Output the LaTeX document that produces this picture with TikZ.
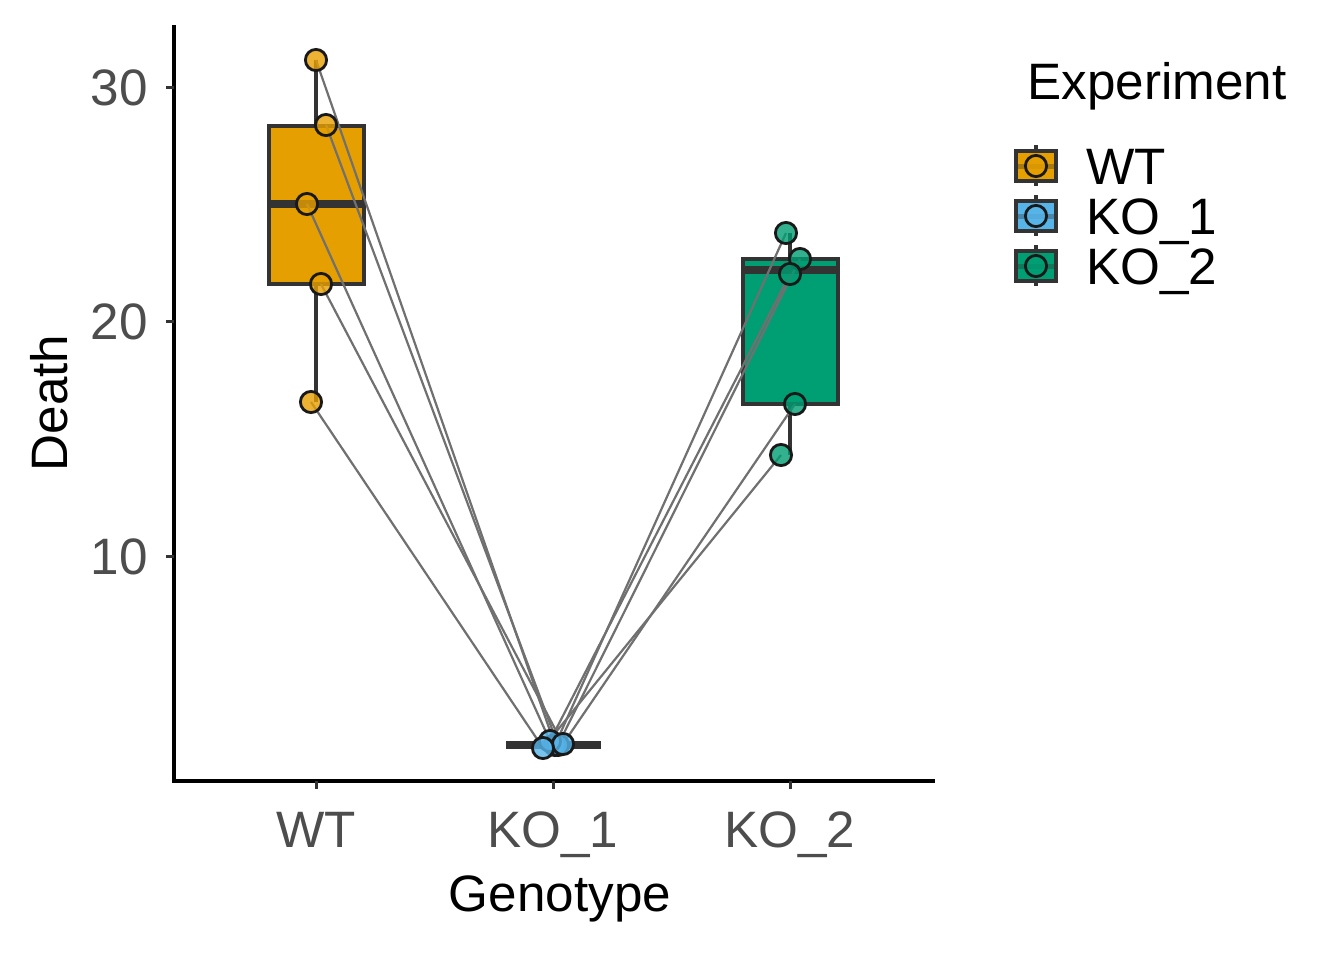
\documentclass[tikz,border=0pt]{standalone}
\usepackage{fontspec}
\setmainfont{Liberation Sans}
\definecolor{wtc}{HTML}{E69F00}
\definecolor{koa}{HTML}{56B4E9}
\definecolor{kob}{HTML}{009E73}
\definecolor{boxline}{HTML}{333333}
\definecolor{ticktext}{HTML}{4D4D4D}
\definecolor{conncol}{HTML}{707070}
\begin{document}
\begin{tikzpicture}[x=0.5pt,y=-0.5pt,
  big/.style={font=\fontsize{25.6}{30}\selectfont, inner sep=0pt},
  ticklab/.style={big, text=ticktext},
  boxst/.style={draw=boxline, line width=2pt},
  medst/.style={draw=boxline, line width=4pt},
  whisk/.style={draw=boxline, line width=2pt},
  conn/.style={draw=conncol, line width=1.1pt},
  ptst/.style={draw=black!90, line width=1.4pt, fill opacity=0.8},
  tickst/.style={draw=boxline, line width=1.5pt},
  axisst/.style={draw=black, line width=2pt, line join=miter}]
\useasboundingbox (0,0) rectangle (1344,960);
\fill[white] (0,0) rectangle (1344,960);

% boxes
\draw[whisk] (316,60) -- (316,126);
\draw[whisk] (316,284) -- (316,402);
\filldraw[boxst, fill=wtc] (269,126) rectangle (364,284);
\draw[medst] (269,204) -- (364,204);

\draw[medst] (506,745) -- (601,745);

\draw[whisk] (790,233) -- (790,259);
\draw[whisk] (790,404) -- (790,455);
\filldraw[boxst, fill=kob] (743,259) rectangle (838,404);
\draw[medst] (743,270) -- (838,270);

% data coordinates
\coordinate (w1) at (316,60);
\coordinate (w2) at (326,125);
\coordinate (w3) at (307,204);
\coordinate (w4) at (321,284);
\coordinate (w5) at (311,402);
\coordinate (k1) at (555,745);
\coordinate (k2) at (558,745);
\coordinate (k3) at (550,741);
\coordinate (k4) at (563,744);
\coordinate (k5) at (543,748);
\coordinate (m1) at (786,233);
\coordinate (m2) at (800,259);
\coordinate (m3) at (790,274);
\coordinate (m4) at (795,404);
\coordinate (m5) at (781,455);

% connectors
\draw[conn] (w1) -- (k1) -- (m1);
\draw[conn] (w2) -- (k2) -- (m2);
\draw[conn] (w3) -- (k3) -- (m3);
\draw[conn] (w4) -- (k4) -- (m4);
\draw[conn] (w5) -- (k5) -- (m5);

% points
\foreach \c in {w1,w2,w3,w4,w5} \filldraw[ptst, fill=wtc] (\c) circle[radius=5.3pt];
\foreach \c in {k1,k2,k3,k4,k5} \filldraw[ptst, fill=koa] (\c) circle[radius=5.3pt];
\foreach \c in {m1,m2,m3,m4,m5} \filldraw[ptst, fill=kob] (\c) circle[radius=5.3pt];

% axes
\draw[axisst] (174,25) -- (174,781) -- (935,781);
\draw[tickst] (166,87) -- (174,87);
\draw[tickst] (166,321) -- (174,321);
\draw[tickst] (166,556) -- (174,556);
\draw[tickst] (316,781) -- (316,789);
\draw[tickst] (553,781) -- (553,789);
\draw[tickst] (790,781) -- (790,789);

\node[ticklab, anchor=base east] (y30) at (148,105) {30};
\node[ticklab, anchor=base east] (y20) at (148,339) {20};
\node[ticklab, anchor=base east] (y10) at (148,574) {10};
\node[ticklab, anchor=base] (xwt) at (316,847) {WT};
\node[ticklab, anchor=base] (xk1) at (553,847) {KO\textunderscore 1};
\node[ticklab, anchor=base] (xk2) at (790,847) {KO\textunderscore 2};
\node[big, anchor=base] (xtitle) at (560,911) {Genotype};
\node[big, anchor=base, rotate=90] (ytitle) at (67,403) {Death};

% legend
\node[big, anchor=base west] (ltitle) at (1027,99) {Experiment};
\foreach \cy/\col/\lab/\nm in {166/wtc/WT/la, 216/koa/KO\textunderscore 1/lb, 266/kob/KO\textunderscore 2/lc} {
  \draw[whisk] (1036,\cy-21) -- (1036,\cy+20);
  \filldraw[boxst, fill=\col] (1016,\cy-15) rectangle (1056,\cy+15);
  \draw[draw=boxline, opacity=0.35, line width=2.5pt] (1017,\cy) -- (1055,\cy);
  \filldraw[ptst, fill=\col] (1036,\cy) circle[radius=5.3pt];
  \node[big, anchor=base west] (\nm) at (1086,\cy+18) {\lab};
}
\end{tikzpicture}
\end{document}
